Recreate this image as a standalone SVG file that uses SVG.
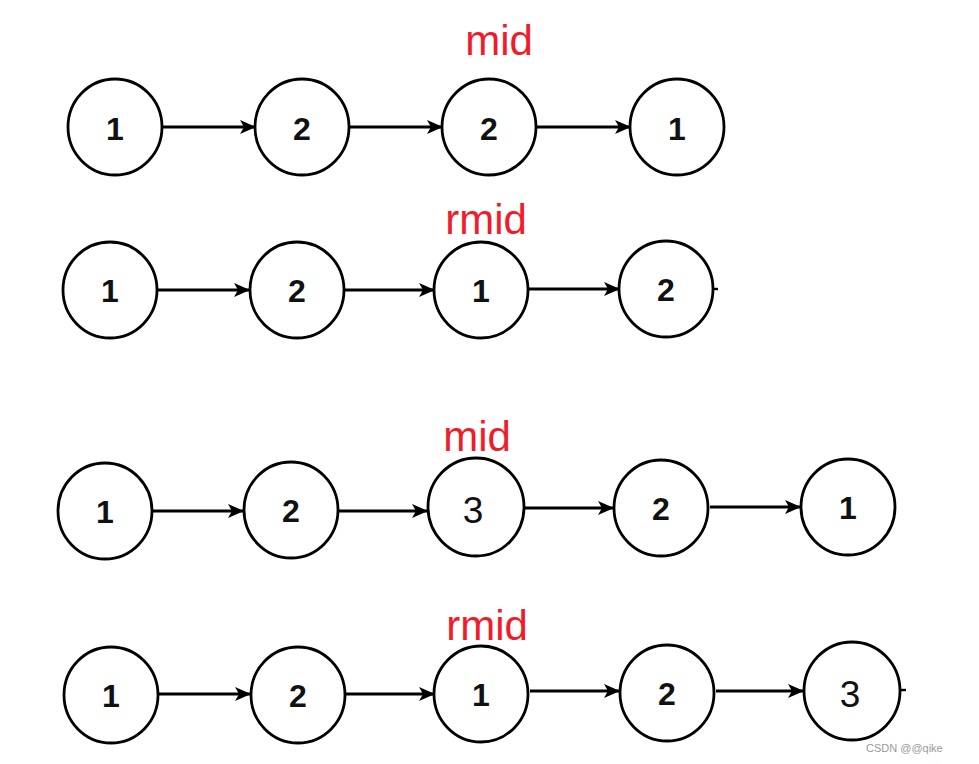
<svg xmlns="http://www.w3.org/2000/svg" width="979" height="764" viewBox="0 0 979 764">
<style>
.n{fill:#fff;stroke:#000;stroke-width:2.8}
.d{font-family:"Liberation Sans",Arial,sans-serif;font-weight:bold;font-size:32px;text-anchor:middle;fill:#111}
.t{font-family:"Liberation Sans",Arial,sans-serif;font-size:37px;text-anchor:middle;fill:#111}
.r{font-family:"Liberation Sans",Arial,sans-serif;font-size:42px;text-anchor:middle;fill:#f01c2a}
.e{stroke:#000;stroke-width:2.8;fill:none;marker-end:url(#a)}
.s{stroke:#000;stroke-width:2.4;fill:none}
.w{font-family:"Liberation Sans",Arial,sans-serif;font-size:11px;fill:#999}
</style>
<defs>
<marker id="a" markerWidth="16" markerHeight="14" refX="15" refY="7" orient="auto" markerUnits="userSpaceOnUse" viewBox="0 0 16 14">
<path d="M0,0 L16,7 L0,14 L4,7 Z" fill="#000"/>
</marker>
</defs>
<rect width="979" height="764" fill="#fff"/>
<g id="labels">
<text class="r" x="499" y="55">mid</text>
<text class="r" x="486" y="234">rmid</text>
<text class="r" x="477" y="451">mid</text>
<text class="r" x="487" y="640">rmid</text>
</g>
<g id="connectors">
<line class="e" x1="162" y1="127" x2="255" y2="127"/>
<line class="e" x1="349" y1="127" x2="442" y2="127"/>
<line class="e" x1="537" y1="127" x2="630" y2="127"/>
<line class="e" x1="158" y1="290" x2="249" y2="290"/>
<line class="e" x1="345" y1="290" x2="434" y2="290"/>
<line class="e" x1="529" y1="289" x2="619" y2="289"/>
<line class="s" x1="713" y1="289" x2="718" y2="289"/>
<line class="e" x1="153" y1="511" x2="243" y2="511"/>
<line class="e" x1="339" y1="511" x2="427" y2="511"/>
<line class="e" x1="524" y1="508" x2="613" y2="508"/>
<line class="e" x1="710" y1="507" x2="800" y2="507"/>
<line class="e" x1="159" y1="694" x2="250" y2="694"/>
<line class="e" x1="346" y1="694" x2="434" y2="694"/>
<line class="e" x1="530" y1="691" x2="619" y2="691"/>
<line class="e" x1="716" y1="691" x2="803" y2="691"/>
<line class="s" x1="900" y1="690" x2="906" y2="690"/>
</g>
<g id="r1n1"><ellipse class="n" cx="115" cy="127" rx="47" ry="48"/><text class="d" x="115" y="140">1</text></g>
<g id="r1n2"><ellipse class="n" cx="302" cy="127" rx="47" ry="48"/><text class="d" x="302" y="140">2</text></g>
<g id="r1n3"><ellipse class="n" cx="489" cy="127" rx="47" ry="48"/><text class="d" x="489" y="140">2</text></g>
<g id="r1n4"><ellipse class="n" cx="677" cy="127" rx="47" ry="48"/><text class="d" x="677" y="140">1</text></g>

<g id="r2n1"><ellipse class="n" cx="110" cy="290" rx="47" ry="48"/><text class="d" x="110" y="302">1</text></g>
<g id="r2n2"><ellipse class="n" cx="297" cy="290" rx="47" ry="48"/><text class="d" x="297" y="302">2</text></g>
<g id="r2n3"><ellipse class="n" cx="481" cy="290" rx="47" ry="48"/><text class="d" x="481" y="302">1</text></g>
<g id="r2n4"><ellipse class="n" cx="666" cy="289" rx="47" ry="48"/><text class="d" x="666" y="301">2</text></g>

<g id="r3n1"><ellipse class="n" cx="105" cy="511" rx="47" ry="48"/><text class="d" x="105" y="523">1</text></g>
<g id="r3n2"><ellipse class="n" cx="291" cy="510" rx="47" ry="48"/><text class="d" x="291" y="522">2</text></g>
<g id="r3n3"><ellipse class="n" cx="476" cy="507" rx="48" ry="49"/><text class="t" x="473" y="523">3</text></g>
<g id="r3n4"><ellipse class="n" cx="661" cy="508" rx="47" ry="48"/><text class="d" x="661" y="520">2</text></g>
<g id="r3n5"><ellipse class="n" cx="848" cy="507" rx="47" ry="48"/><text class="d" x="848" y="519">1</text></g>

<g id="r4n1"><ellipse class="n" cx="111" cy="695" rx="47" ry="48"/><text class="d" x="111" y="707">1</text></g>
<g id="r4n2"><ellipse class="n" cx="298" cy="695" rx="47" ry="48"/><text class="d" x="298" y="707">2</text></g>
<g id="r4n3"><ellipse class="n" cx="481" cy="694" rx="47" ry="48"/><text class="d" x="481" y="706">1</text></g>
<g id="r4n4"><ellipse class="n" cx="667" cy="693" rx="47" ry="48"/><text class="d" x="667" y="705">2</text></g>
<g id="r4n5"><ellipse class="n" cx="852" cy="691" rx="48" ry="49"/><text class="t" x="850" y="707">3</text></g>
<text class="w" x="866" y="752">CSDN @@qike</text>
</svg>
